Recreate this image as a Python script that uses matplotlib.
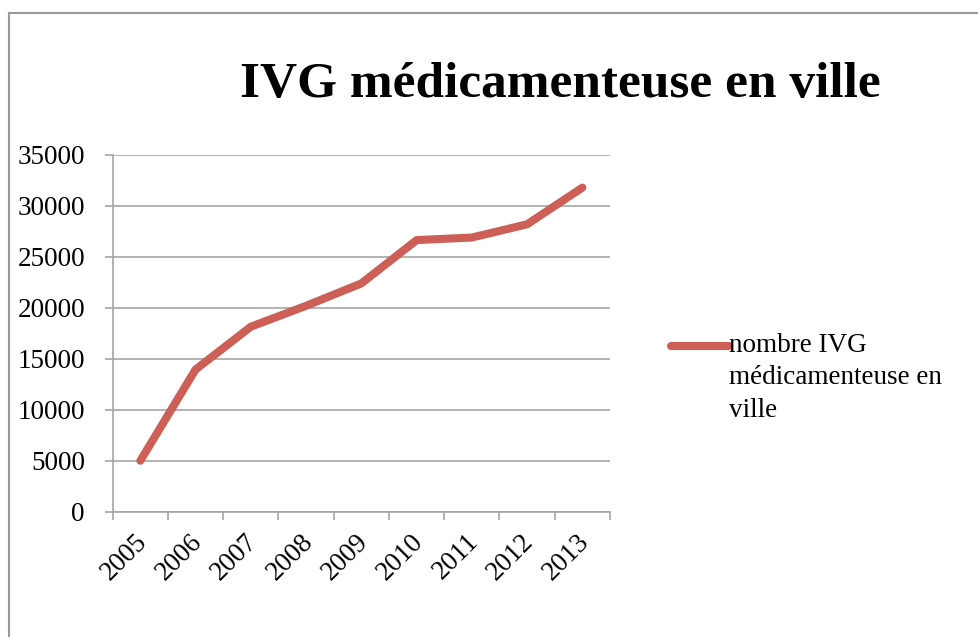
import numpy as np
import matplotlib.pyplot as plt
from matplotlib.lines import Line2D
from matplotlib.transforms import ScaledTranslation

years = ['2005', '2006', '2007', '2008', '2009', '2010', '2011', '2012', '2013']
ivg_ville = [5000, 13950, 18150, 20200, 22400, 26650, 26900, 28200, 31800]
series_label = 'nombre IVG\nmédicamenteuse en\nville'
title = 'IVG médicamenteuse en ville'

plt.rcParams['font.family'] = ['Liberation Serif', 'DejaVu Serif']

fig = plt.figure(figsize=(9.79, 6.37), dpi=100)
ax = fig.add_axes([0.1151, 0.1967, 0.508, 0.56])

x = np.arange(len(years))
ax.plot(x, ivg_ville, color='#CD5F57', lw=5.8, solid_capstyle='round',
        solid_joinstyle='round', label=series_label, zorder=3)

ax.set_xlim(-0.5, len(years) - 0.5)
ax.set_ylim(0, 35000)
ax.set_yticks(np.arange(0, 35001, 5000))
ax.grid(axis='y', color='#A6A6A6', lw=1.2)
ax.set_axisbelow(True)

ax.set_xticks(x)
ax.set_xticklabels(years, rotation=45, ha='right', rotation_mode='anchor')
ax.set_xticks(np.arange(-0.5, len(years)), minor=True)
ax.tick_params(axis='x', which='major', length=0, pad=14, labelsize=19.5)
ax.tick_params(axis='x', which='minor', length=6, width=1.2, color='#A6A6A6', direction='out')
ax.tick_params(axis='y', length=6, width=1.2, color='#A6A6A6', pad=14, labelsize=19.5)
shift = ScaledTranslation(-6 / 100, 2 / 100, fig.dpi_scale_trans)
for lbl in ax.get_xticklabels():
    lbl.set_transform(lbl.get_transform() + shift)

for s in ['top', 'right']:
    ax.spines[s].set_visible(False)
for s in ['left', 'bottom']:
    ax.spines[s].set_color('#A6A6A6')
    ax.spines[s].set_linewidth(1.2)

fig.text(0.572, 1 - 97 / 637, title, ha='center', va='baseline', fontsize=37, fontweight='bold')

leg = ax.legend(loc='center left', bbox_to_anchor=(0.674, 0.4066), bbox_transform=fig.transFigure,
                frameon=False, fontsize=19.5, handlelength=2.15, handletextpad=0.0,
                borderaxespad=0, labelspacing=0)
for t in leg.get_texts():
    t.set_linespacing(1.38)
for h in leg.legend_handles:
    yd = h.get_ydata()
    h.set_ydata([v + 23 for v in yd])
    h.set_solid_capstyle('round')

# outer chart border (top and left visible)
fig.add_artist(Line2D([0.0095, 0.0095], [0, 0.98], transform=fig.transFigure, color='#9A9A9A', lw=1.5))
fig.add_artist(Line2D([0.0095, 1.0], [0.98, 0.98], transform=fig.transFigure, color='#9A9A9A', lw=1.5))

fig.savefig('out.png', dpi=100)
